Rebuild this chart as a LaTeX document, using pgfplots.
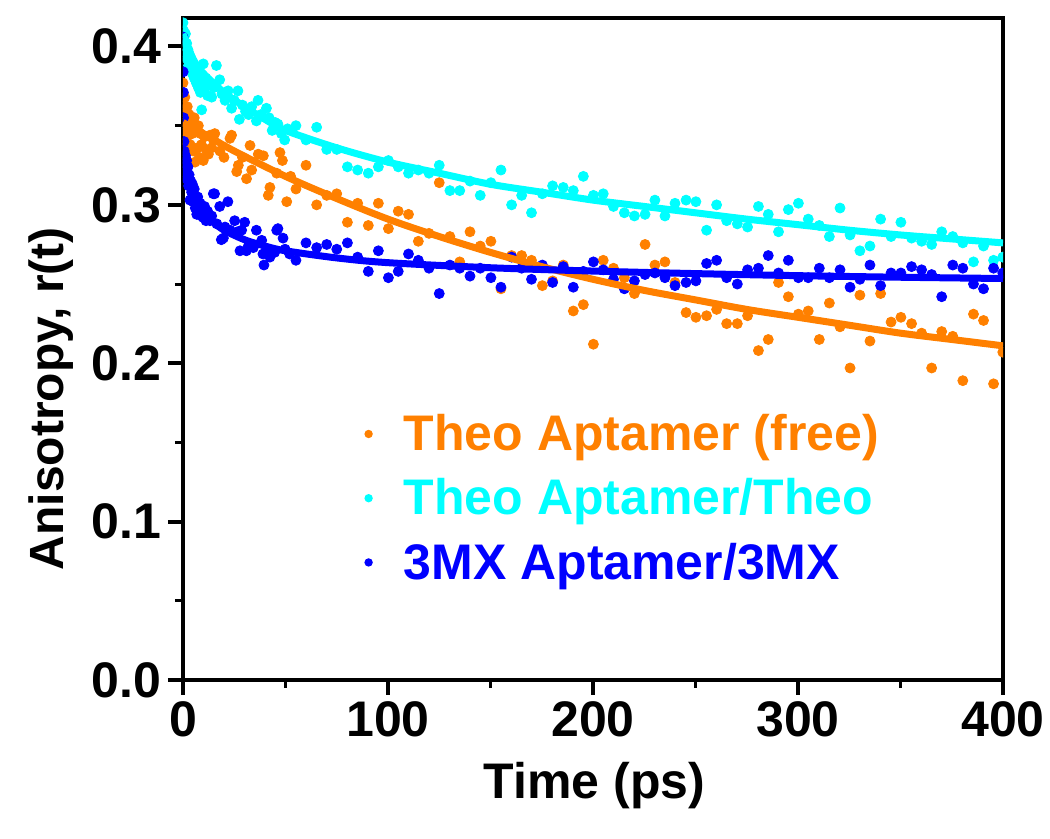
\documentclass[border=0pt]{standalone}
\usepackage{fontspec}
\setmainfont{Liberation Sans}
\usepackage{pgfplots}
\usepackage{pgfplotstable}
\pgfplotsset{compat=1.18}
\definecolor{myorange}{RGB}{255,128,0}
\definecolor{mycyan}{RGB}{0,255,255}
\definecolor{myblue}{RGB}{0,0,255}

\pgfplotstableread{
t r
0 0.377
0.3 0.362
0.6 0.352
0.9 0.368
1.2 0.346
1.5 0.358
1.8 0.340
2.1 0.362
2.4 0.350
2.7 0.344
3.0 0.357
3.5 0.338
4.0 0.352
4.5 0.345
5.0 0.334
5.5 0.355
5.9 0.327
6.5 0.348
7.0 0.336
7.5 0.350
8.0 0.330
8.5 0.345
9.0 0.338
9.9 0.328
10.5 0.343
11.2 0.335
12.4 0.332
13.2 0.344
14.0 0.336
14.8 0.341
15.5 0.345
18.0 0.334
20.0 0.330
22.9 0.342
23.7 0.344
26.2 0.321
27.0 0.325
29.0 0.330
31.0 0.3165
32.7 0.3375
33.5 0.322
36.7 0.332
39.2 0.331
41.6 0.306
42.4 0.311
45.7 0.320
47.3 0.333
48.5 0.328
50.6 0.302
52.5 0.318
55.1 0.310
60 0.325
65.2 0.300
70.1 0.306
75 0.307
80.2 0.289
85.2 0.301
90.4 0.287
95.3 0.301
100.2 0.285
105 0.296
110 0.294
114.8 0.277
120 0.282
125 0.314
130.2 0.280
135 0.264
140 0.283
145 0.274
150.2 0.277
155.1 0.247
160.3 0.268
165.2 0.268
170 0.265
175.3 0.249
180.3 0.252
185.5 0.262
190.4 0.233
195.3 0.237
200.2 0.212
205 0.265
210 0.260
215.3 0.254
220.2 0.244
225.4 0.275
230.2 0.262
235.1 0.264
240 0.251
245.4 0.232
250.2 0.229
255.4 0.230
260.3 0.234
265.2 0.225
270.4 0.225
275.4 0.230
280.7 0.208
285.5 0.215
290.5 0.251
295.3 0.242
300.2 0.231
305 0.233
310.4 0.215
315.3 0.238
320.5 0.223
325.4 0.197
330.2 0.243
335.1 0.214
340.3 0.244
345.4 0.226
350.2 0.229
355.4 0.225
360.3 0.219
365.2 0.197
370.1 0.220
375.5 0.217
380.4 0.189
385.6 0.231
390.5 0.227
395.4 0.187
399.9 0.207
}\orangedata

\pgfplotstableread{
t r
0 0.415
0.3 0.410
0.6 0.404
0.9 0.400
1.2 0.408
1.5 0.396
1.8 0.402
2.1 0.392
2.4 0.398
2.7 0.388
3.0 0.395
3.5 0.386
4.0 0.392
4.5 0.383
5.0 0.389
5.5 0.380
6.0 0.387
6.5 0.377
7.0 0.384
7.5 0.374
8.0 0.381
8.5 0.371
9.1 0.360
9.5 0.378
9.9 0.389
10.5 0.373
11.2 0.380
12.0 0.369
13.0 0.376
14.0 0.368
15.0 0.374
16.3 0.388
17.9 0.379
19.0 0.370
20.5 0.366
22.0 0.372
23.7 0.361
25.0 0.366
26.8 0.372
27.5 0.354
29.0 0.363
30.5 0.359
32.0 0.357
33.5 0.362
35.8 0.353
36.6 0.366
38.0 0.357
40.7 0.361
42.0 0.355
43.5 0.347
45.0 0.352
46.3 0.351
48.0 0.345
49.6 0.341
51.0 0.348
55.1 0.350
60 0.341
65.2 0.349
70.1 0.335
75 0.335
80.2 0.324
85.2 0.322
90.4 0.320
95.3 0.324
100.2 0.328
105 0.324
110 0.320
114.8 0.322
120 0.320
125 0.325
130.2 0.309
135 0.309
140 0.315
145 0.306
150.2 0.314
155.1 0.322
160.3 0.300
165.2 0.306
170 0.295
175.3 0.307
180.3 0.312
185.5 0.311
190.4 0.309
195.3 0.318
200.2 0.306
205 0.307
210 0.299
215.3 0.295
220.2 0.293
225.4 0.294
230.2 0.303
235.1 0.293
240 0.301
245.4 0.303
250.2 0.302
255.4 0.284
260.3 0.300
265.2 0.290
270.4 0.288
275.4 0.286
280.7 0.299
285.5 0.294
290.5 0.283
295.3 0.297
300.2 0.301
305 0.291
310.4 0.287
315.3 0.280
320.5 0.298
325.4 0.281
330.2 0.271
335.1 0.274
340.3 0.291
345.4 0.280
350.2 0.289
355.4 0.279
360.3 0.277
365.2 0.275
370.1 0.283
375.5 0.280
380.4 0.276
385.6 0.264
390.5 0.274
395.4 0.265
399.9 0.267
}\cyandata

\pgfplotstableread{
t r
0 0.406
0.1 0.384
0.2 0.371
0.3 0.355
0.5 0.340
0.6 0.334
0.9 0.326
1.2 0.331
1.5 0.320
1.8 0.328
2.1 0.316
2.4 0.324
2.7 0.312
3.0 0.319
3.4 0.303
3.8 0.315
4.2 0.308
4.6 0.313
5.0 0.302
5.5 0.310
6.0 0.298
6.7 0.294
7.2 0.305
7.8 0.296
8.4 0.301
9.0 0.293
9.9 0.292
10.5 0.299
11.2 0.290
12.0 0.296
13.2 0.290
14.0 0.293
14.8 0.307
15.4 0.307
16.5 0.288
17.9 0.299
18.7 0.278
19.7 0.279
20.5 0.286
21.9 0.302
23.0 0.284
25.2 0.290
26.5 0.283
27.8 0.271
28.6 0.284
30.1 0.289
30.9 0.271
31.9 0.274
34.3 0.273
35.8 0.284
38.4 0.2776
39.0 0.269
39.5 0.262
40.8 0.272
42.4 0.267
44.7 0.270
45.7 0.284
46.3 0.285
48.8 0.279
49.8 0.272
52.0 0.269
55.1 0.265
60 0.276
65.2 0.273
70.1 0.275
75 0.272
80.2 0.276
85.2 0.267
90.4 0.258
95.3 0.271
100.2 0.254
105 0.258
110 0.269
114.8 0.265
120 0.260
125 0.244
130.2 0.262
135 0.260
140 0.255
145 0.260
150.2 0.254
155.1 0.248
160.3 0.267
165.2 0.260
170 0.253
175.3 0.262
180.3 0.251
185.5 0.261
190.4 0.248
195.3 0.258
200.2 0.264
205 0.259
210 0.253
215.3 0.247
220.2 0.252
225.4 0.256
230.2 0.257
235.1 0.254
240 0.249
245.4 0.251
250.2 0.252
255.4 0.263
260.3 0.265
265.2 0.254
270.4 0.250
275.4 0.259
280.7 0.260
285.5 0.268
290.5 0.257
295.3 0.265
300.2 0.254
305 0.254
310.4 0.260
315.3 0.254
320.5 0.259
325.4 0.248
330.2 0.253
335.1 0.262
340.3 0.249
345.4 0.257
350.2 0.257
355.4 0.261
360.3 0.259
365.2 0.256
370.1 0.242
375.5 0.262
380.4 0.260
385.6 0.250
390.5 0.247
395.4 0.260
399.9 0.257
}\bluedata

\begin{document}
\begin{tikzpicture}
\begin{axis}[name=ax, scale only axis, width=410pt, height=331pt,
  xmin=0, xmax=400, ymin=0, ymax=0.418,
  xtick={0,100,200,300,400}, ytick={0,0.1,0.2,0.3,0.4},
  minor x tick num=1, minor y tick num=1,
  tick align=outside, xtick pos=bottom, ytick pos=left,
  axis line style={line width=2.2pt},
  major tick length=7.5pt, minor tick length=4pt,
  major tick style={black, line width=2pt},
  minor tick style={black, line width=1.5pt},
  clip marker paths=true,
  /pgf/number format/assume math mode=true,
  xticklabel style={font=\fontsize{25}{29}\selectfont\bfseries},
  yticklabel style={font=\fontsize{25}{29}\selectfont\bfseries},
  xticklabel={\pgfmathprintnumber{\tick}},
  yticklabel={\pgfmathprintnumber[fixed,fixed zerofill,precision=1]{\tick}},
  xlabel={Time (ps)},
  ylabel={Anisotropy, r(t)},
  xlabel style={font=\fontsize{25}{29}\selectfont\bfseries, at={(axis description cs:0.502,0)}, yshift=-53pt, anchor=center},
  ylabel style={font=\fontsize{24}{28}\selectfont\bfseries, at={(axis description cs:-0.161,0.425)}, anchor=center},
  legend style={at={(axis cs:88.3,0.1705)}, anchor=north west, draw=none, fill=none,
    font=\fontsize{25}{30}\selectfont\bfseries, row sep=8.5pt, inner sep=0pt},
  legend cell align=left,
  legend image code/.code={\path[draw=none,fill=none] (0cm,-0.1cm) rectangle (0.6cm,0.1cm); \fill[#1,draw=none] (1.5pt,0cm) circle (2.1pt);},
]
\addplot[only marks, mark=*, color=myorange, mark size=2.5pt] table[x=t,y=r] {\orangedata};
\addlegendentry{\textcolor{myorange}{Theo Aptamer (free)}}
\addplot[only marks, mark=*, color=mycyan, mark size=2.5pt] table[x=t,y=r] {\cyandata};
\addlegendentry{\textcolor{mycyan}{Theo Aptamer/Theo}}
\addplot[only marks, mark=*, color=myblue, mark size=2.5pt] table[x=t,y=r] {\bluedata};
\addlegendentry{\textcolor{myblue}{3MX Aptamer/3MX}}

\addplot[forget plot, smooth, color=myorange, line width=3.5pt] coordinates {
(0,0.352)(10,0.345)(25,0.334)(50,0.318)(75,0.304)(100,0.291)(125,0.280)(150,0.270)(175,0.261)(200,0.253)(225,0.246)(250,0.240)(275,0.234)(300,0.229)(325,0.224)(350,0.219)(375,0.215)(400,0.211)};
\addplot[forget plot, smooth, color=mycyan, line width=3.5pt] coordinates {
(0,0.408)(5,0.392)(10,0.383)(20,0.371)(30,0.362)(40,0.354)(50,0.347)(75,0.336)(100,0.327)(125,0.320)(150,0.313)(175,0.308)(200,0.303)(225,0.299)(250,0.295)(275,0.291)(300,0.2875)(325,0.284)(350,0.281)(375,0.2785)(400,0.276)};
\addplot[forget plot, smooth, color=myblue, line width=3.5pt] coordinates {
(0,0.335)(1.5,0.324)(3,0.315)(6,0.303)(10,0.295)(15,0.289)(20,0.284)(30,0.278)(40,0.274)(50,0.271)(75,0.2665)(100,0.2635)(150,0.2603)(200,0.2582)(250,0.2566)(300,0.2553)(350,0.2543)(400,0.2535)};
\end{axis}
\pgfresetboundingbox
\path[use as bounding box] ([xshift=-91.5pt,yshift=-79.5pt]ax.south west) rectangle ([xshift=23.5pt,yshift=9pt]ax.north east);
\end{tikzpicture}
\end{document}
